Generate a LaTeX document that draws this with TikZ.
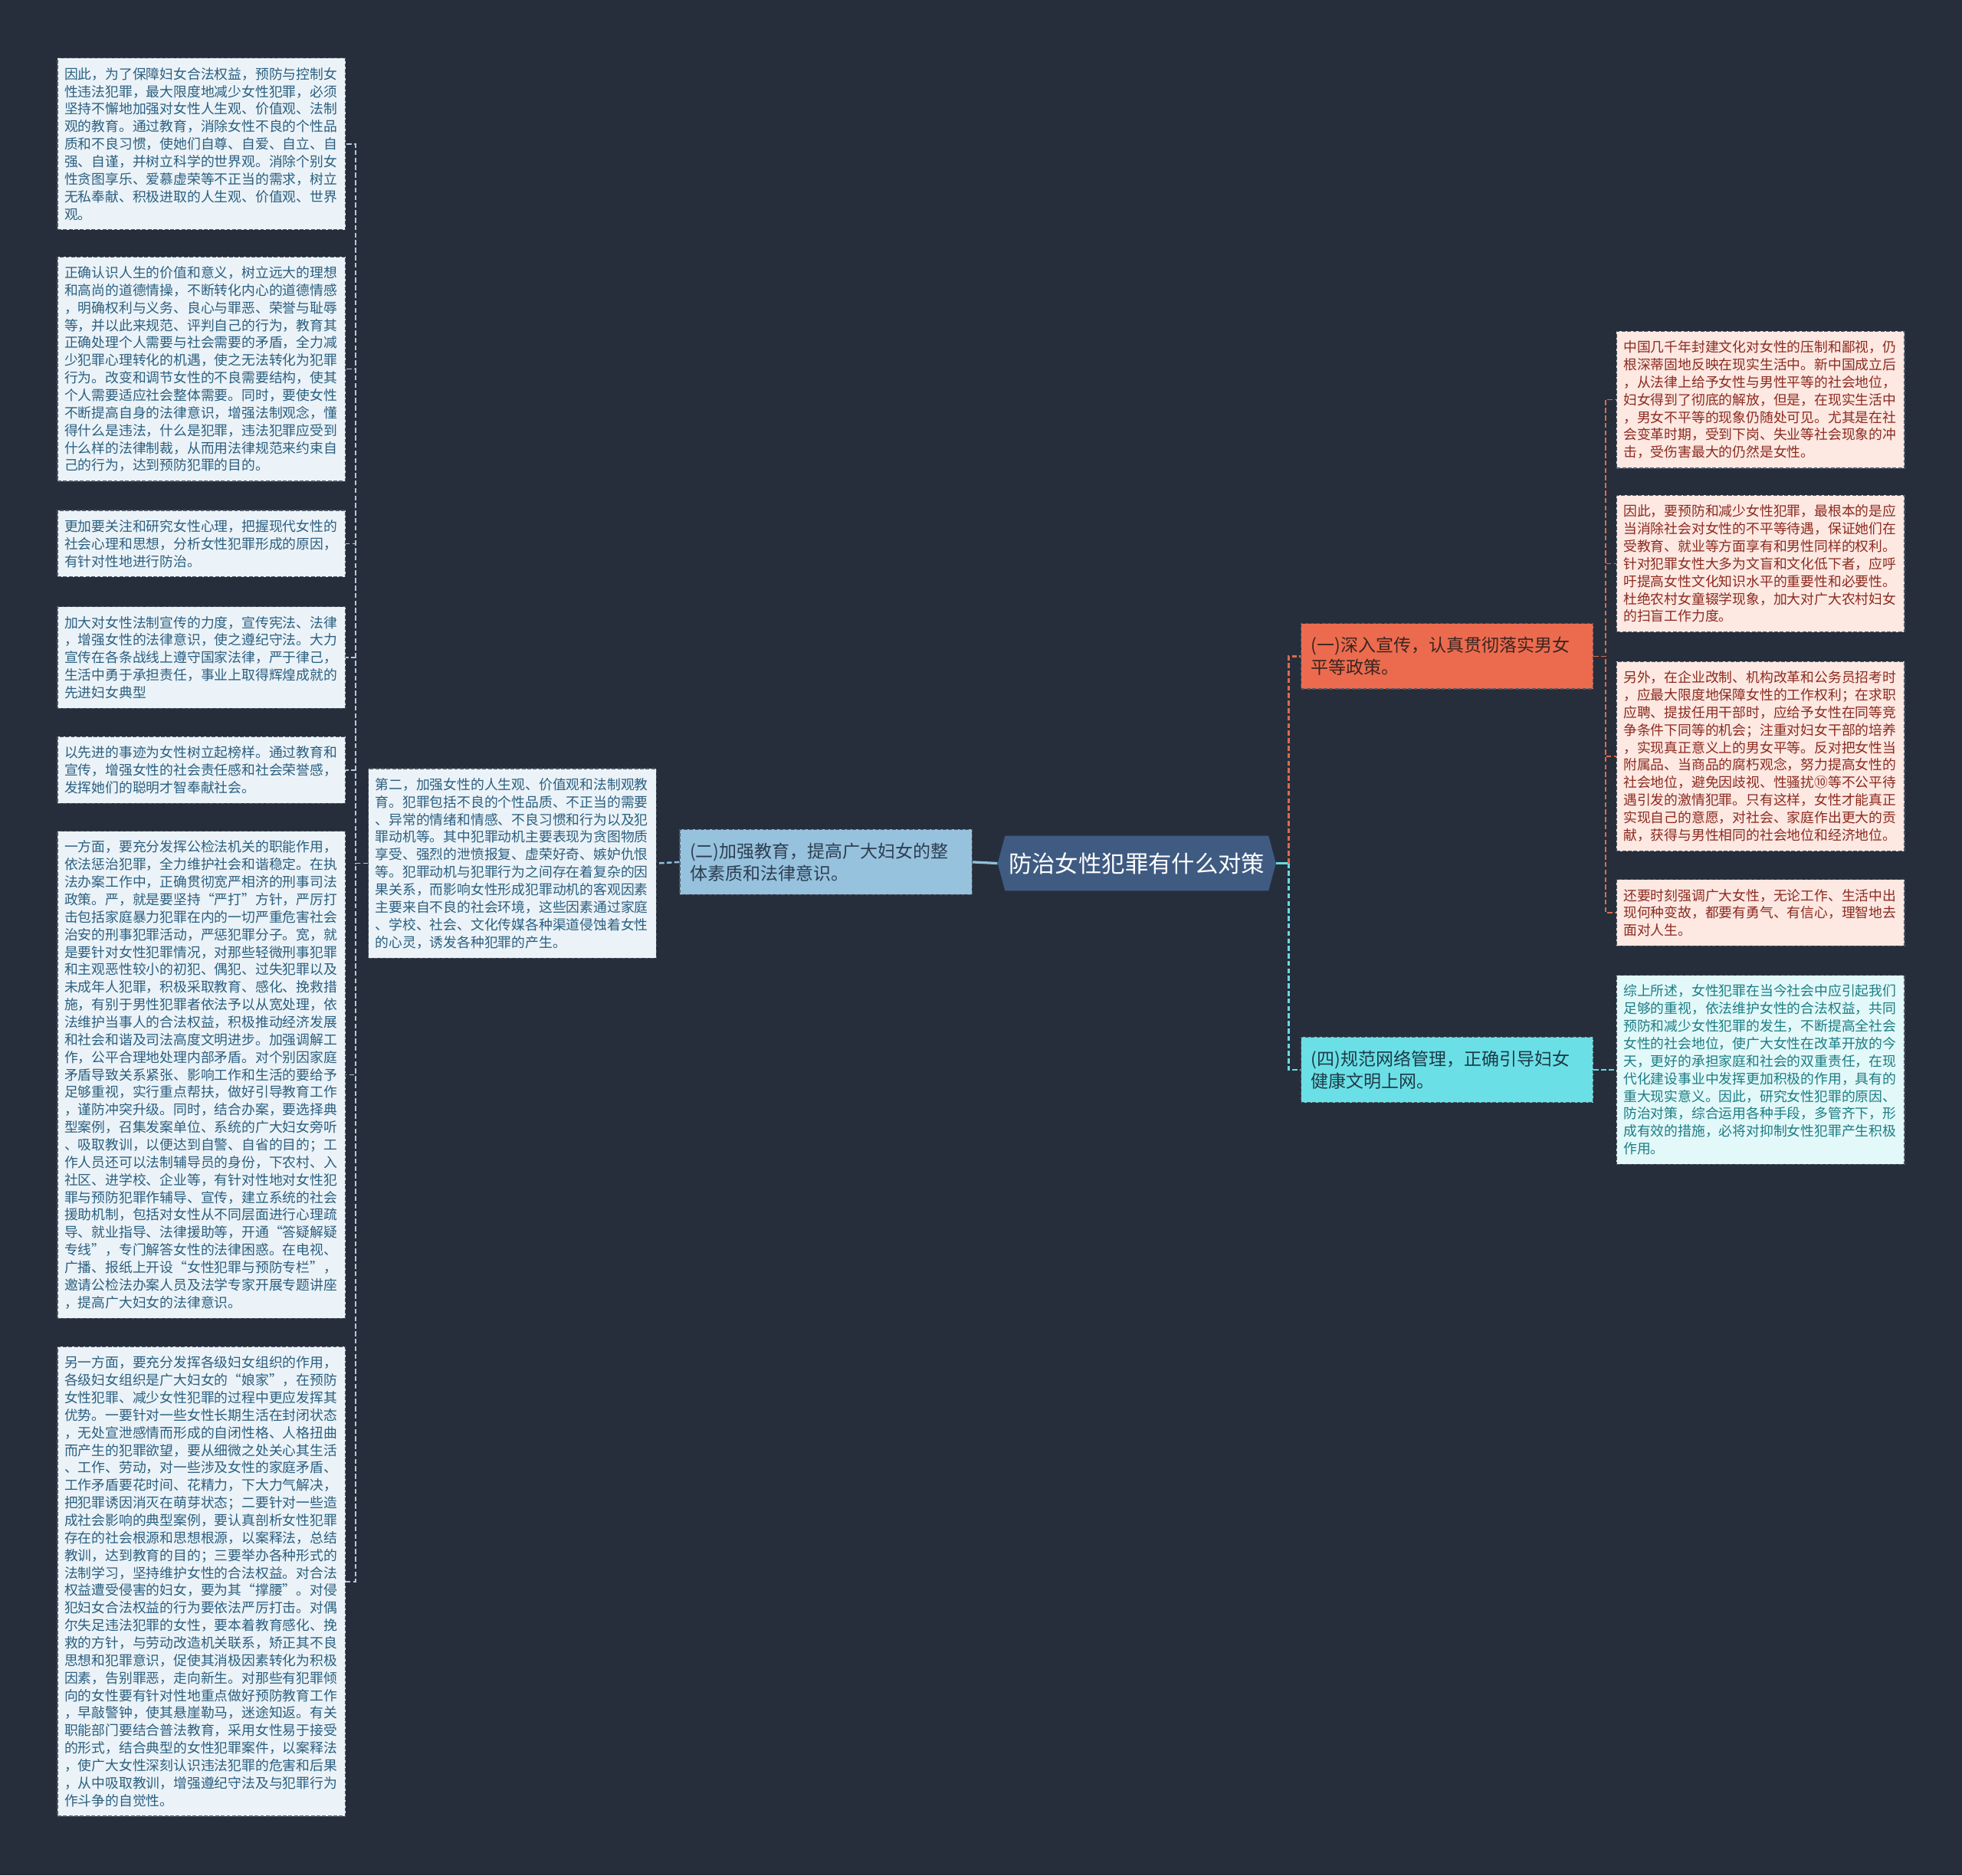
\documentclass[tikz,border=0pt]{standalone}
\usepackage{fontspec}
\setmainfont{Noto Sans CJK SC}
\usepackage{tikz}
\usetikzlibrary{shapes.symbols}
\definecolor{canvas}{HTML}{262E3C}
\definecolor{boxline}{HTML}{4E5764}
\definecolor{leafbg}{HTML}{EBF3F8}
\definecolor{leaftx}{HTML}{2B5F80}
\definecolor{leafln}{HTML}{B2C9DD}
\definecolor{bluebg}{HTML}{97C2DE}
\definecolor{bluetx}{HTML}{2D3E50}
\definecolor{blueln}{HTML}{8FC0DC}
\definecolor{rootbg}{HTML}{3F5B82}
\definecolor{orangebg}{HTML}{EC6B4E}
\definecolor{orangetx}{HTML}{3B2522}
\definecolor{orangeln}{HTML}{E0694B}
\definecolor{pinkbg}{HTML}{FDE8E2}
\definecolor{pinktx}{HTML}{8C2B1F}
\definecolor{cyanbg}{HTML}{6AE0E6}
\definecolor{cyantx}{HTML}{1E3A48}
\definecolor{cyanln}{HTML}{66DAE2}
\definecolor{mintbg}{HTML}{E2F8F9}
\definecolor{minttx}{HTML}{1C7D84}

\begin{document}
\begin{tikzpicture}[x=1bp,y=-1bp,every node/.style={align=left},
  box/.style={draw=boxline,dash pattern=on 3bp off 1.5bp,line width=0.8bp},
  leaf/.style={box,fill=leafbg,text=leaftx,font=\fontsize{10.9bp}{14bp}\selectfont,text width=219bp,inner xsep=5.5bp,inner ysep=7.5bp},
  pink/.style={leaf,fill=pinkbg,text=pinktx},
  mint/.style={leaf,fill=mintbg,text=minttx},
  branch/.style={box,font=\fontsize{14.1bp}{18bp}\selectfont,text width=217.5bp,inner xsep=8bp,inner ysep=10.5bp},
  link/.style={dash pattern=on 4bp off 2bp,line width=1bp}]
\fill[canvas] (0,0) rectangle (1568,1499);
\useasboundingbox (0,0) rectangle (1568,1499);
\node[shape=signal,signal to=west and east,signal pointer angle=150,fill=rootbg,text=white,font=\fontsize{18.6bp}{22bp}\selectfont,minimum height=44bp,inner xsep=3bp] (A) at (908.5,690) {防治女性犯罪有什么对策};
\node[branch,fill=bluebg,text=bluetx] (B) at (660,689) {(二)加强教育，提高广大妇女的整\\体素质和法律意识。};
\node[leaf] (C) at (409.5,690) {第二，加强女性的人生观、价值观和法制观教\\育。犯罪包括不良的个性品质、不正当的需要\\、异常的情绪和情感、不良习惯和行为以及犯\\罪动机等。其中犯罪动机主要表现为贪图物质\\享受、强烈的泄愤报复、虚荣好奇、嫉妒仇恨\\等。犯罪动机与犯罪行为之间存在着复杂的因\\果关系，而影响女性形成犯罪动机的客观因素\\主要来自不良的社会环境，这些因素通过家庭\\、学校、社会、文化传媒各种渠道侵蚀着女性\\的心灵，诱发各种犯罪的产生。};
\node[leaf] (D) at (161,115) {因此，为了保障妇女合法权益，预防与控制女\\性违法犯罪，最大限度地减少女性犯罪，必须\\坚持不懈地加强对女性人生观、价值观、法制\\观的教育。通过教育，消除女性不良的个性品\\质和不良习惯，使她们自尊、自爱、自立、自\\强、自谨，并树立科学的世界观。消除个别女\\性贪图享乐、爱慕虚荣等不正当的需求，树立\\无私奉献、积极进取的人生观、价值观、世界\\观。};
\node[leaf] (E) at (161,295) {正确认识人生的价值和意义，树立远大的理想\\和高尚的道德情操，不断转化内心的道德情感\\，明确权利与义务、良心与罪恶、荣誉与耻辱\\等，并以此来规范、评判自己的行为，教育其\\正确处理个人需要与社会需要的矛盾，全力减\\少犯罪心理转化的机遇，使之无法转化为犯罪\\行为。改变和调节女性的不良需要结构，使其\\个人需要适应社会整体需要。同时，要使女性\\不断提高自身的法律意识，增强法制观念，懂\\得什么是违法，什么是犯罪，违法犯罪应受到\\什么样的法律制裁，从而用法律规范来约束自\\己的行为，达到预防犯罪的目的。};
\node[leaf] (F) at (161,434.5) {更加要关注和研究女性心理，把握现代女性的\\社会心理和思想，分析女性犯罪形成的原因，\\有针对性地进行防治。};
\node[leaf] (G) at (161,525.5) {加大对女性法制宣传的力度，宣传宪法、法律\\，增强女性的法律意识，使之遵纪守法。大力\\宣传在各条战线上遵守国家法律，严于律己，\\生活中勇于承担责任，事业上取得辉煌成就的\\先进妇女典型};
\node[leaf] (H) at (161,615.5) {以先进的事迹为女性树立起榜样。通过教育和\\宣传，增强女性的社会责任感和社会荣誉感，\\发挥她们的聪明才智奉献社会。};
\node[leaf] (I) at (161,859) {一方面，要充分发挥公检法机关的职能作用，\\依法惩治犯罪，全力维护社会和谐稳定。在执\\法办案工作中，正确贯彻宽严相济的刑事司法\\政策。严，就是要坚持“严打”方针，严厉打\\击包括家庭暴力犯罪在内的一切严重危害社会\\治安的刑事犯罪活动，严惩犯罪分子。宽，就\\是要针对女性犯罪情况，对那些轻微刑事犯罪\\和主观恶性较小的初犯、偶犯、过失犯罪以及\\未成年人犯罪，积极采取教育、感化、挽救措\\施，有别于男性犯罪者依法予以从宽处理，依\\法维护当事人的合法权益，积极推动经济发展\\和社会和谐及司法高度文明进步。加强调解工\\作，公平合理地处理内部矛盾。对个别因家庭\\矛盾导致关系紧张、影响工作和生活的要给予\\足够重视，实行重点帮扶，做好引导教育工作\\，谨防冲突升级。同时，结合办案，要选择典\\型案例，召集发案单位、系统的广大妇女旁听\\、吸取教训，以便达到自警、自省的目的；工\\作人员还可以法制辅导员的身份，下农村、入\\社区、进学校、企业等，有针对性地对女性犯\\罪与预防犯罪作辅导、宣传，建立系统的社会\\援助机制，包括对女性从不同层面进行心理疏\\导、就业指导、法律援助等，开通“答疑解疑\\专线”，专门解答女性的法律困惑。在电视、\\广播、报纸上开设“女性犯罪与预防专栏”，\\邀请公检法办案人员及法学专家开展专题讲座\\，提高广大妇女的法律意识。};
\node[leaf] (J) at (161,1264) {另一方面，要充分发挥各级妇女组织的作用，\\各级妇女组织是广大妇女的“娘家”，在预防\\女性犯罪、减少女性犯罪的过程中更应发挥其\\优势。一要针对一些女性长期生活在封闭状态\\，无处宣泄感情而形成的自闭性格、人格扭曲\\而产生的犯罪欲望，要从细微之处关心其生活\\、工作、劳动，对一些涉及女性的家庭矛盾、\\工作矛盾要花时间、花精力，下大力气解决，\\把犯罪诱因消灭在萌芽状态；二要针对一些造\\成社会影响的典型案例，要认真剖析女性犯罪\\存在的社会根源和思想根源，以案释法，总结\\教训，达到教育的目的；三要举办各种形式的\\法制学习，坚持维护女性的合法权益。对合法\\权益遭受侵害的妇女，要为其“撑腰”。对侵\\犯妇女合法权益的行为要依法严厉打击。对偶\\尔失足违法犯罪的女性，要本着教育感化、挽\\救的方针，与劳动改造机关联系，矫正其不良\\思想和犯罪意识，促使其消极因素转化为积极\\因素，告别罪恶，走向新生。对那些有犯罪倾\\向的女性要有针对性地重点做好预防教育工作\\，早敲警钟，使其悬崖勒马，迷途知返。有关\\职能部门要结合普法教育，采用女性易于接受\\的形式，结合典型的女性犯罪案件，以案释法\\，使广大女性深刻认识违法犯罪的危害和后果\\，从中吸取教训，增强遵纪守法及与犯罪行为\\作斗争的自觉性。};
\node[branch,fill=orangebg,text=orangetx] (K) at (1156.5,524.5) {(一)深入宣传，认真贯彻落实男女\\平等政策。};
\node[branch,fill=cyanbg,text=cyantx] (L) at (1156.5,855) {(四)规范网络管理，正确引导妇女\\健康文明上网。};
\node[pink] (M) at (1407,319.5) {中国几千年封建文化对女性的压制和鄙视，仍\\根深蒂固地反映在现实生活中。新中国成立后\\，从法律上给予女性与男性平等的社会地位，\\妇女得到了彻底的解放，但是，在现实生活中\\，男女不平等的现象仍随处可见。尤其是在社\\会变革时期，受到下岗、失业等社会现象的冲\\击，受伤害最大的仍然是女性。};
\node[pink] (N) at (1407,450.5) {因此，要预防和减少女性犯罪，最根本的是应\\当消除社会对女性的不平等待遇，保证她们在\\受教育、就业等方面享有和男性同样的权利。\\针对犯罪女性大多为文盲和文化低下者，应呼\\吁提高女性文化知识水平的重要性和必要性。\\杜绝农村女童辍学现象，加大对广大农村妇女\\的扫盲工作力度。};
\node[pink] (O) at (1407,604.5) {另外，在企业改制、机构改革和公务员招考时\\，应最大限度地保障女性的工作权利；在求职\\应聘、提拔任用干部时，应给予女性在同等竞\\争条件下同等的机会；注重对妇女干部的培养\\，实现真正意义上的男女平等。反对把女性当\\附属品、当商品的腐朽观念，努力提高女性的\\社会地位，避免因歧视、性骚扰⑩等不公平待\\遇引发的激情犯罪。只有这样，女性才能真正\\实现自己的意愿，对社会、家庭作出更大的贡\\献，获得与男性相同的社会地位和经济地位。};
\node[pink] (P) at (1407,729.5) {还要时刻强调广大女性，无论工作、生活中出\\现何种变故，都要有勇气、有信心，理智地去\\面对人生。};
\node[mint] (Q) at (1407,855) {综上所述，女性犯罪在当今社会中应引起我们\\足够的重视，依法维护女性的合法权益，共同\\预防和减少女性犯罪的发生，不断提高全社会\\女性的社会地位，使广大女性在改革开放的今\\天，更好的承担家庭和社会的双重责任，在现\\代化建设事业中发挥更加积极的作用，具有的\\重大现实意义。因此，研究女性犯罪的原因、\\防治对策，综合运用各种手段，多管齐下，形\\成有效的措施，必将对抑制女性犯罪产生积极\\作用。};
\draw[blueln,line width=2bp] (A.west) -- (B.east);
\draw[blueln,link,line width=1.5bp] (B.west) -- (C.east);
\foreach \n in {D,E,F,G,H,I,J} \draw[leafln,link] (C.west) -- ++(-10,0) |- (\n.east);
\draw[cyanln,line width=2bp] (A.east) -- ++(10,0) coordinate (T);
\draw[orangeln,link,line width=1.5bp] (T) |- (K.west);
\draw[cyanln,link,line width=1.5bp] (T) |- (L.west);
\foreach \n in {M,N,O,P} \draw[orangeln,link] (K.east) -- ++(9.5,0) |- (\n.west);
\draw[cyanln,link] (L.east) -- (Q.west);
\end{tikzpicture}
\end{document}
